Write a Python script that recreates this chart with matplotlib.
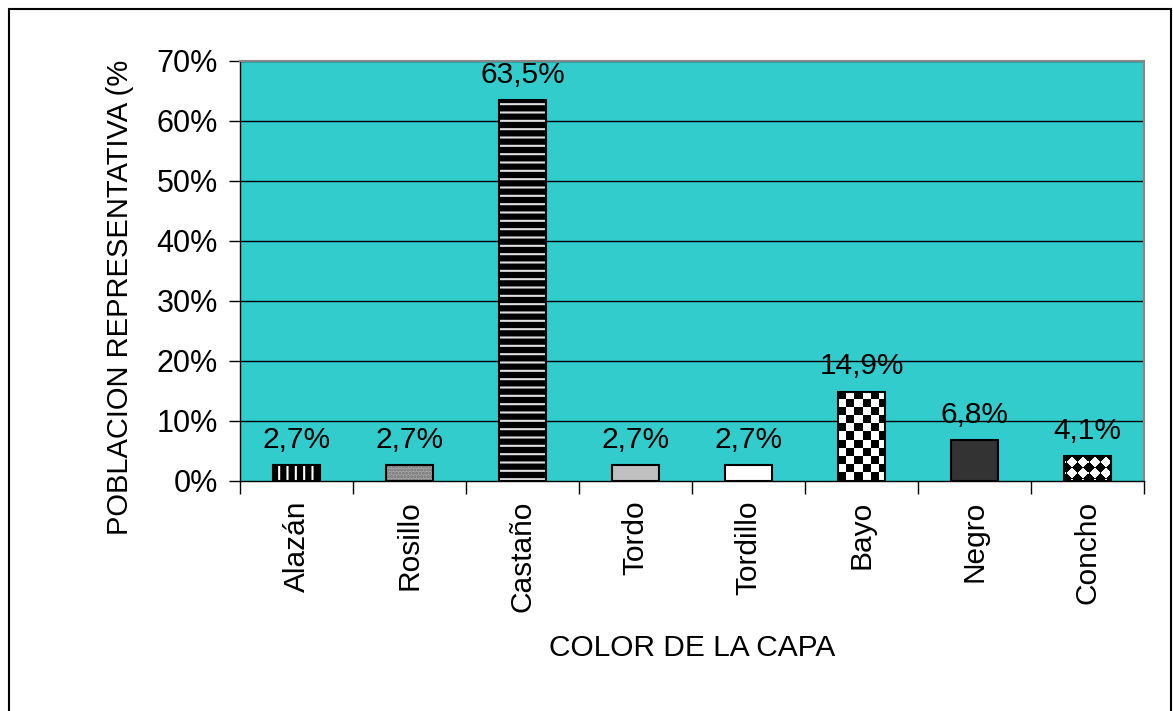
import matplotlib
matplotlib.use("Agg")
import matplotlib.pyplot as plt
import numpy as np
from matplotlib.patches import Rectangle

plt.rcParams['font.family'] = ['Liberation Sans', 'DejaVu Sans']
plt.rcParams['hatch.linewidth'] = 1.5

categories = ['Alazán', 'Rosillo', 'Castaño', 'Tordo', 'Tordillo', 'Bayo', 'Negro', 'Concho']
values = [2.7, 2.7, 63.5, 2.7, 2.7, 14.9, 6.8, 4.1]
labels = ['2,7%', '2,7%', '63,5%', '2,7%', '2,7%', '14,9%', '6,8%', '4,1%']
yticks = [0, 10, 20, 30, 40, 50, 60, 70]

# fill styles per bar: (face, hatch colour, hatch, texture)
fills = [
    ('black', 'white', '||', None),
    ('#a8a8a8', '#707070', '.....', None),
    ('black', '#e0e0e0', '--', None),
    ('#c0c0c0', '#c0c0c0', '', None),
    ('white', 'white', '', None),
    ('white', 'white', '', 'checker'),
    ('#333333', '#333333', '', None),
    ('white', 'white', '', 'diamond'),
]

fig = plt.figure(figsize=(11.73, 7.11), dpi=100)
ax = fig.add_axes([240/1173, 1-481/711, (1144-240)/1173, (481-61)/711])
ax.set_facecolor('#33CCCC')

# outer chart frame
fig.patches.append(Rectangle((9/1173, -0.02), (1171-9)/1173, 1-9/711+0.02,
                             transform=fig.transFigure, fill=False,
                             edgecolor='black', lw=1.5))

x = np.arange(len(categories))
w = 0.41
ax.set_xlim(-0.5, len(categories)-0.5)
ax.set_ylim(0, 70)
ax.set_yticks(yticks)
ax.set_yticklabels([f'{t}%' for t in yticks], fontsize=22)
for t in yticks[1:]:
    ax.axhline(t, color='black', lw=1, zorder=1)

for i in range(len(categories)):
    face, hcol, hatch, tex = fills[i]
    b = ax.bar(x[i], values[i], w, color=face, edgecolor=hcol, hatch=hatch,
               lw=0, zorder=2)
    if tex is not None:
        p = b[0]
        (x0, y0) = ax.transData.transform((p.get_x(), 0))
        (x1, y1) = ax.transData.transform((p.get_x()+p.get_width(), p.get_height()))
        wp, hp = int(round(x1-x0)), int(round(y1-y0))
        yy, xx = np.mgrid[0:hp, 0:wp]
        if tex == 'checker':
            img = ((xx // 8) + (yy // 8)) % 2
        else:
            s = 11
            img = ((np.floor((xx+yy+3)/s) + np.floor((xx-yy+3)/s)) % 2)
        im = ax.imshow(img, cmap='gray', interpolation='nearest', aspect='auto',
                       extent=(p.get_x(), p.get_x()+p.get_width(), 0, p.get_height()),
                       zorder=2.5)
        im.set_clip_path(p)

outline = ax.bar(x, values, w, fill=False, edgecolor='black', lw=1.5, zorder=3)
ax.bar_label(outline, labels=labels, padding=8, fontsize=21.5)
ax.set_xlim(-0.5, len(categories)-0.5)
ax.set_ylim(0, 70)

ax.set_xticks(x)
ax.set_xticklabels(categories, rotation=90, fontsize=21.5)
ax.set_xticks(np.arange(len(categories)+1)-0.5, minor=True)
ax.tick_params(axis='x', which='major', length=0, pad=14)
ax.tick_params(axis='x', which='minor', length=9, width=1, color='black')
ax.tick_params(axis='y', length=8, width=1, pad=8)

for s in ['top', 'right']:
    ax.spines[s].set_color('#888888')
    ax.spines[s].set_linewidth(1.5)
for s in ['left', 'bottom']:
    ax.spines[s].set_color('black')
    ax.spines[s].set_linewidth(1)

ax.set_xlabel('COLOR DE LA CAPA', fontsize=21.5, labelpad=16)
fig.text(120/1173, 1-535/711, 'POBLACION REPRESENTATIVA (%', rotation=90,
         ha='center', va='bottom', fontsize=21)

fig.savefig('out.png', dpi=100)
